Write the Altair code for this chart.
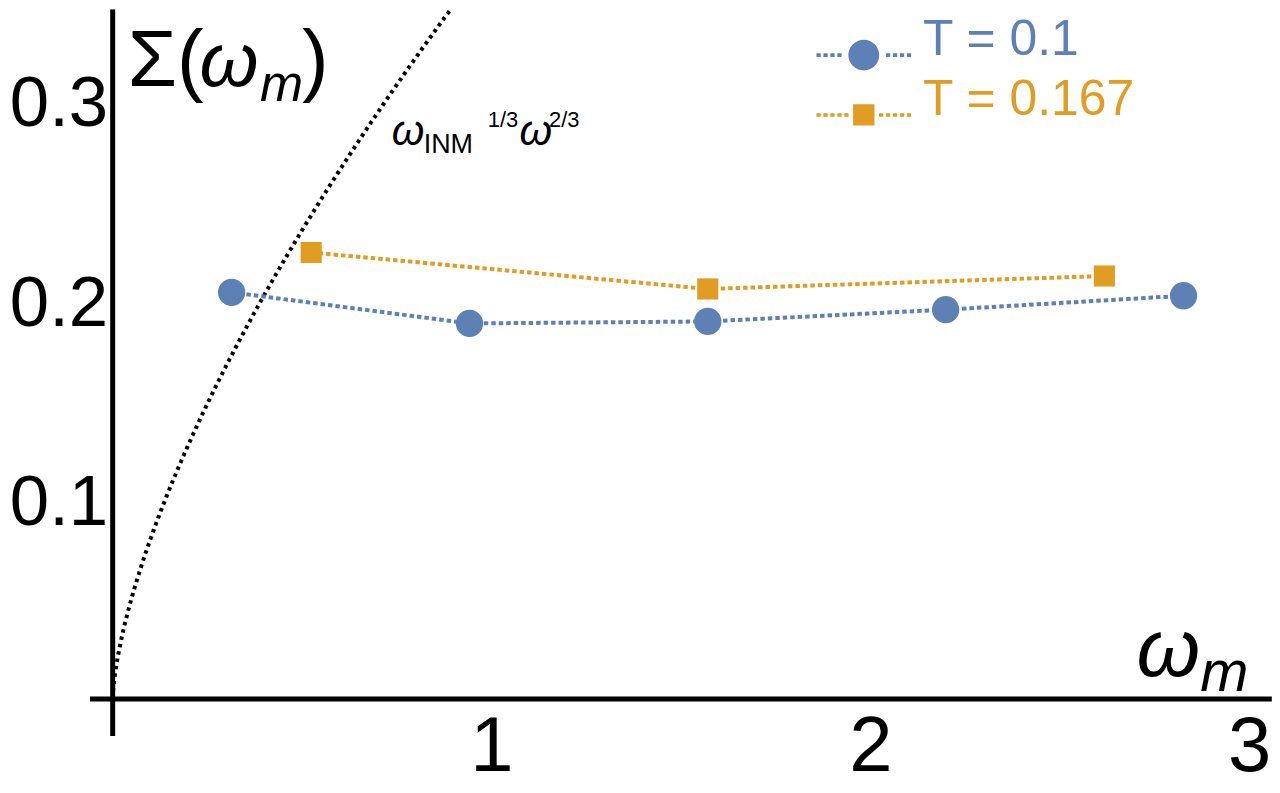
import altair as alt
import pandas as pd

# ---- data ----
series_names = ["T = 0.1", "T = 0.167"]
series_colors = ["#5E81B5", "#E19C24"]

blue_x = [0.314, 0.942, 1.571, 2.199, 2.827]
blue_y = [0.204, 0.1884, 0.1894, 0.1953, 0.2023]
orange_x = [0.524, 1.571, 2.618]
orange_y = [0.224, 0.2057, 0.2122]

omega_inm = 0.052          # curve  omega_INM^(1/3) * omega^(2/3)

x_ticks = [1, 2, 3]
y_ticks = [0.1, 0.2, 0.3]
x_domain = [-0.2553, 3.0605]
y_domain = [-0.0425, 0.346]
xaxis_span = [-0.06, 3.06]
yaxis_span = [-0.0185, 0.346]

upright_text = ["Σ(", ")", "INM", "1/3", "2/3"]
upright_x = [0.0395, 0.5, 0.821, 0.99, 1.152]
upright_y = [0.3075, 0.3075, 0.274, 0.287, 0.287]
upright_size = [80, 80, 27, 22, 22]

italic_text = ["ω", "m", "ω", "ω", "ω", "m"]
italic_x = [0.229, 0.389, 0.737, 1.074, 2.703, 2.871]
italic_y = [0.3075, 0.300, 0.278, 0.278, 0.0115, 0.004]
italic_size = [76, 52, 42, 42, 82, 58]

FONT = "Liberation Sans"

# ---- tables ----
pts = pd.DataFrame({
    "w": blue_x + orange_x,
    "s": blue_y + orange_y,
    "series": [series_names[0]] * len(blue_x) + [series_names[1]] * len(orange_x),
})
up_df = pd.DataFrame({"t": upright_text, "x": upright_x, "y": upright_y, "fs": upright_size})
it_df = pd.DataFrame({"t": italic_text, "x": italic_x, "y": italic_y, "fs": italic_size})
xaxis_df = pd.DataFrame({"x": [xaxis_span[0]], "x2": [xaxis_span[1]], "y": [0.0]})
yaxis_df = pd.DataFrame({"y": [yaxis_span[0]], "y2": [yaxis_span[1]], "x": [0.0]})

xscale = alt.Scale(domain=x_domain, nice=False, zero=False)
yscale = alt.Scale(domain=y_domain, nice=False, zero=False)

xaxis = alt.Axis(values=x_ticks, domain=False, ticks=False, grid=False, title=None,
                 labelFontSize=78, labelFont=FONT, labelColor="black", labelPadding=10,
                 offset=-85, labelFlush=False, labelOverlap=False, format="d")
yaxis = alt.Axis(values=y_ticks, domain=False, ticks=False, grid=False, title=None,
                 labelFontSize=71, labelFont=FONT, labelColor="black", labelPadding=5,
                 labelOffset=4, offset=-97, labelFlush=False, labelOverlap=False, format=".1f")


def X(field):
    return alt.X(field, type="quantitative", scale=xscale, axis=xaxis)


def Y(field):
    return alt.Y(field, type="quantitative", scale=yscale, axis=yaxis)


color = alt.Color("series:N", scale=alt.Scale(domain=series_names, range=series_colors), legend=None)

# axis lines
x_line = alt.Chart(xaxis_df).mark_rule(color="black", strokeWidth=5, clip=True).encode(
    x=X("x"), x2="x2", y=Y("y"))
y_line = alt.Chart(yaxis_df).mark_rule(color="black", strokeWidth=5, clip=True).encode(
    x=X("x"), y=Y("y"), y2="y2")

# reference curve
curve = (
    alt.Chart(alt.sequence(0, 0.95, 0.0005, as_="w"))
    .transform_calculate(s=f"pow({omega_inm}, 1/3) * pow(datum.w, 2/3)")
    .transform_filter(f"datum.s <= {y_domain[1]}")
    .mark_line(color="black", strokeDash=[3.5, 4], strokeWidth=4, clip=True)
    .encode(x=X("w"), y=Y("s"))
)

lines = alt.Chart(pts).mark_line(strokeDash=[4.5, 3], strokeWidth=4, clip=True).encode(
    x=X("w"), y=Y("s"), color=color, detail="series:N")

points = alt.Chart(pts).mark_point(filled=True, opacity=1, clip=True).encode(
    x=X("w"), y=Y("s"), color=color,
    shape=alt.Shape("series:N", scale=alt.Scale(domain=series_names, range=["circle", "square"]), legend=None),
    size=alt.Size("series:N", scale=alt.Scale(domain=series_names, range=[750, 450]), legend=None),
)


# legend symbols: dotted line with marker (path in unit box, scaled by sqrt(size)/2)
def dots(marker_half):
    w, h, period = 0.09, 0.075, 0.147
    parts = []
    x = -1.0
    while x + w <= -marker_half - 0.02:
        parts.append(f"M{x:.3f},{-h/2:.3f}h{w:.3f}v{h:.3f}h{-w:.3f}Z")
        parts.append(f"M{-x - w:.3f},{-h/2:.3f}h{w:.3f}v{h:.3f}h{-w:.3f}Z")
        x += period
    return "".join(parts)


r = 0.326
circle_path = f"M{-r},0A{r},{r},0,1,1,{r},0A{r},{r},0,1,1,{-r},0Z" + dots(r)
q = 0.226
square_path = f"M{-q},{-q}h{2*q}v{2*q}h{-2*q}Z" + dots(q)
legend_paths = [circle_path, square_path]
legend_pos = [(803, -1.5), (803, 58.5)]

legend_layers = []
for name, col, path, (lx, ly) in zip(series_names, series_colors, legend_paths, legend_pos):
    legend_layers.append(
        alt.Chart(pts).transform_filter("false").mark_point(filled=True, opacity=1, color=col).encode(
            x=X("w"), y=Y("s"),
            shape=alt.Shape("series:N", scale=alt.Scale(domain=[name], range=[path]),
                            legend=alt.Legend(orient="none", legendX=lx, legendY=ly, title=None,
                                              padding=0, labelFontSize=50, labelFont=FONT,
                                              labelColor=col, labelBaseline="alphabetic",
                                              labelOffset=12, labelLimit=500, symbolSize=9025,
                                              symbolStrokeWidth=0, symbolFillColor=col,
                                              symbolOpacity=1)),
        )
    )

up_text = alt.Chart(up_df).mark_text(align="left", baseline="alphabetic", font=FONT, color="black").encode(
    x=X("x"), y=Y("y"), text="t:N", size=alt.Size("fs:Q", scale=None, legend=None))
it_text = alt.Chart(it_df).mark_text(align="left", baseline="alphabetic", font=FONT, fontStyle="italic",
                                     color="black").encode(
    x=X("x"), y=Y("y"), text="t:N", size=alt.Size("fs:Q", scale=None, legend=None))

chart = (
    alt.layer(x_line, y_line, curve, lines, points, up_text, it_text, *legend_layers)
    .resolve_scale(shape="independent", size="independent")
    .properties(width=1260, height=777, autosize=alt.AutoSizeParams(type="none"),
                padding={"left": 8, "top": 0, "right": 0, "bottom": 8})
    .configure_view(stroke=None)
)

chart.save("out.html", embed_options={"renderer": "svg", "actions": False})
